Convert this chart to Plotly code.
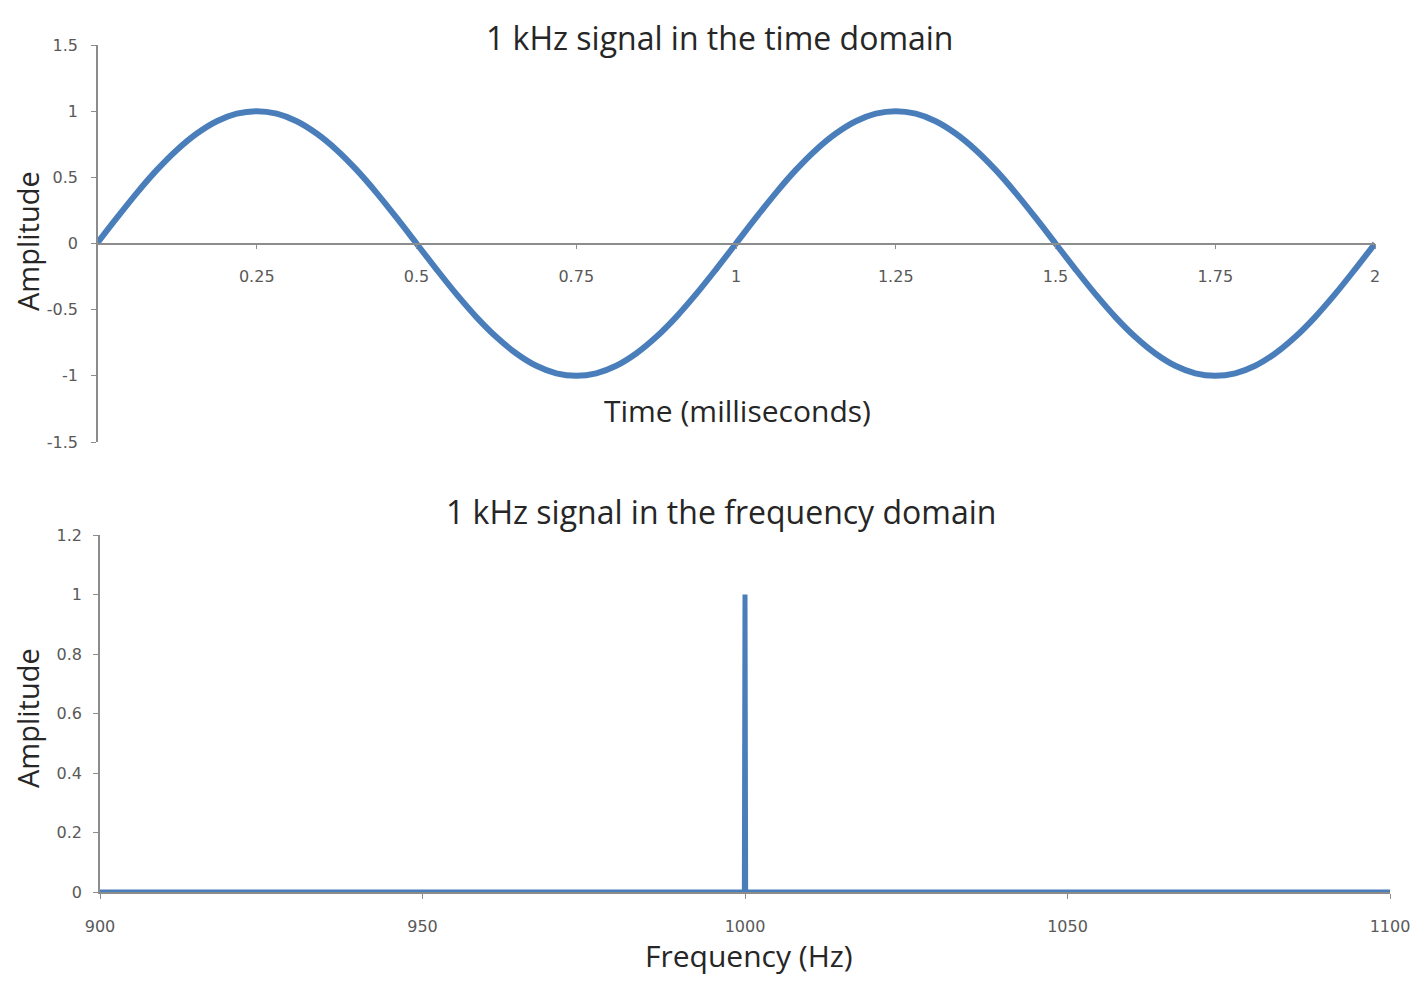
import plotly.graph_objects as go

# ---- data ----
time_ms = [0, 0.03125, 0.0625, 0.09375, 0.125, 0.15625, 0.1875, 0.21875,
           0.25, 0.28125, 0.3125, 0.34375, 0.375, 0.40625, 0.4375, 0.46875,
           0.5, 0.53125, 0.5625, 0.59375, 0.625, 0.65625, 0.6875, 0.71875,
           0.75, 0.78125, 0.8125, 0.84375, 0.875, 0.90625, 0.9375, 0.96875,
           1.0, 1.03125, 1.0625, 1.09375, 1.125, 1.15625, 1.1875, 1.21875,
           1.25, 1.28125, 1.3125, 1.34375, 1.375, 1.40625, 1.4375, 1.46875,
           1.5, 1.53125, 1.5625, 1.59375, 1.625, 1.65625, 1.6875, 1.71875,
           1.75, 1.78125, 1.8125, 1.84375, 1.875, 1.90625, 1.9375, 1.96875, 2.0]
time_amp = [0, 0.195, 0.383, 0.556, 0.707, 0.831, 0.924, 0.981,
            1.0, 0.981, 0.924, 0.831, 0.707, 0.556, 0.383, 0.195,
            0, -0.195, -0.383, -0.556, -0.707, -0.831, -0.924, -0.981,
            -1.0, -0.981, -0.924, -0.831, -0.707, -0.556, -0.383, -0.195,
            0, 0.195, 0.383, 0.556, 0.707, 0.831, 0.924, 0.981,
            1.0, 0.981, 0.924, 0.831, 0.707, 0.556, 0.383, 0.195,
            0, -0.195, -0.383, -0.556, -0.707, -0.831, -0.924, -0.981,
            -1.0, -0.981, -0.924, -0.831, -0.707, -0.556, -0.383, -0.195, 0]

freq_hz = [900, 999.9, 1000, 1000.1, 1100]
freq_amp = [0, 0, 1.0, 0, 0]

time_ticks = [0.25, 0.5, 0.75, 1, 1.25, 1.5, 1.75, 2]
time_tick_text = ["0.25", "0.5", "0.75", "1", "1.25", "1.5", "1.75", "2"]
amp_ticks = [-1.5, -1, -0.5, 0, 0.5, 1, 1.5]
amp_tick_text = ["-1.5", "-1", "-0.5", "0", "0.5", "1", "1.5"]
freq_ticks = [900, 950, 1000, 1050, 1100]
spec_ticks = [0, 0.2, 0.4, 0.6, 0.8, 1, 1.2]
spec_tick_text = ["0", "0.2", "0.4", "0.6", "0.8", "1", "1.2"]

BLUE = "#4a7ebb"
AXIS = "#8c8c8c"
TICKFONT = dict(family="DejaVu Sans", size=16, color="#595959")
TEXTFONT = "Open Sans"

W, H = 1428, 994
OFF = 8  # page body margin


def px_x(p):
    return (p - OFF) / W


def px_y(p):
    return 1 - (p - OFF) / H


fig = go.Figure()
fig.add_trace(go.Scatter(x=time_ms, y=time_amp, mode="lines",
                         line=dict(color=BLUE, width=6, shape="spline"),
                         xaxis="x", yaxis="y", showlegend=False))
fig.add_trace(go.Scatter(x=freq_hz, y=freq_amp, mode="lines",
                         line=dict(color=BLUE, width=5),
                         xaxis="x2", yaxis="y2", showlegend=False))

top_y = [px_y(442), px_y(45)]
axis_common = dict(showgrid=False, zeroline=False, showline=True,
                   linecolor=AXIS, linewidth=1.5, ticks="outside",
                   tickcolor=AXIS, ticklen=5, tickfont=TICKFONT)

fig.update_layout(
    width=W, height=H,
    margin=dict(l=0, r=0, t=0, b=0, autoexpand=False),
    paper_bgcolor="white", plot_bgcolor="white",
    xaxis=dict(axis_common, domain=[px_x(97), px_x(1375)], range=[0, 2],
               anchor="free", position=(top_y[0] + top_y[1]) / 2,
               tickvals=time_ticks, ticktext=time_tick_text,
               ticklabelstandoff=14),
    yaxis=dict(axis_common, domain=top_y, range=[-1.5, 1.5],
               anchor="free", position=px_x(97),
               tickvals=amp_ticks, ticktext=amp_tick_text,
               ticklabelstandoff=10),
    xaxis2=dict(axis_common, domain=[px_x(100), px_x(1390)], range=[900, 1100],
                anchor="y2", tickvals=freq_ticks, ticklabelstandoff=14),
    yaxis2=dict(axis_common, domain=[px_y(892), px_y(535)], range=[0, 1.2],
                anchor="x2", tickvals=spec_ticks, ticktext=spec_tick_text,
                ticklabelstandoff=8),
)

texts = [
    ("1 kHz signal in the time domain", 719, 37, 32, 0),
    ("Time (milliseconds)", 737, 410, 30, 0),
    ("1 kHz signal in the frequency domain", 721, 511, 32, 0),
    ("Frequency (Hz)", 749, 955, 30, 0),
    ("Amplitude", 27, 241, 29, -90),
    ("Amplitude", 27, 718, 29, -90),
]
for txt, x, y, size, ang in texts:
    fig.add_annotation(text=txt, x=px_x(x), y=px_y(y), xref="paper", yref="paper",
                       showarrow=False, textangle=ang, xanchor="center", yanchor="middle",
                       borderpad=0,
                       font=dict(family=TEXTFONT, size=size, color="#262626"))

fig.write_html("out.html")
